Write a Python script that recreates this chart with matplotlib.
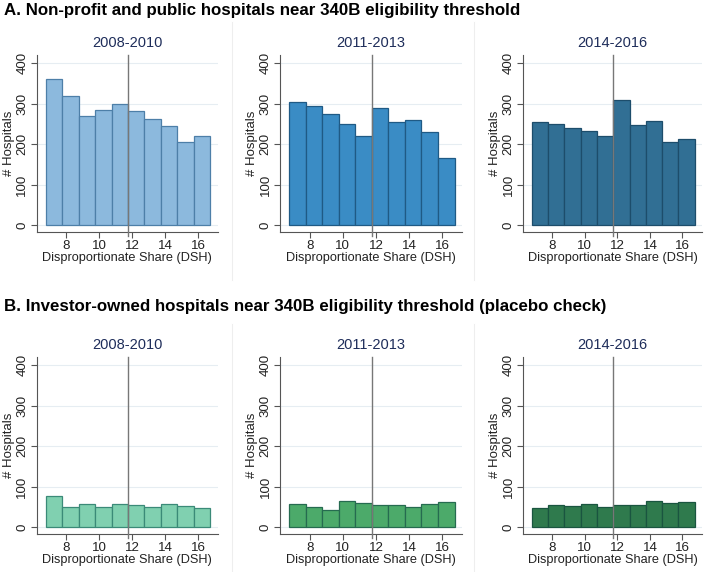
import matplotlib
matplotlib.use("Agg")
from matplotlib import pyplot as plt
from matplotlib.lines import Line2D

plt.rcParams['font.family'] = ['Liberation Sans', 'DejaVu Sans']

# DSH bin centres (1-point bins, threshold at 11.75)
dsh_bins = [7.25, 8.25, 9.25, 10.25, 11.25, 12.25, 13.25, 14.25, 15.25, 16.25]
threshold = 11.75
periods = ["2008-2010", "2011-2013", "2014-2016"]

# A. non-profit and public hospitals
nonprofit_0810 = [360, 318, 269, 285, 300, 282, 261, 244, 205, 220]
nonprofit_1113 = [305, 293, 274, 250, 219, 289, 255, 260, 231, 165]
nonprofit_1416 = [255, 249, 239, 232, 219, 308, 247, 256, 205, 213]

# B. investor-owned hospitals
investor_0810 = [78, 50, 58, 50, 57, 55, 49, 56, 51, 46]
investor_1113 = [58, 50, 43, 64, 60, 55, 54, 49, 57, 62]
investor_1416 = [47, 55, 52, 58, 50, 54, 54, 64, 60, 63]

x_ticks = [8, 10, 12, 14, 16]
y_ticks = [0, 100, 200, 300, 400]

rows = [
    ("A. Non-profit and public hospitals near 340B eligibility threshold",
     [nonprofit_0810, nonprofit_1113, nonprofit_1416],
     [("#8cb9dd", "#4d7fa8"), ("#3a8cc5", "#1f5a85"), ("#316f94", "#1d4d6b")]),
    ("B. Investor-owned hospitals near 340B eligibility threshold (placebo check)",
     [investor_0810, investor_1113, investor_1416],
     [("#80d0b0", "#3b8a78"), ("#4caa6a", "#266b50"), ("#2f7a4d", "#1a5540")]),
]

W, H = 708, 572
fig = plt.figure(figsize=(W / 100, H / 100), dpi=100)

col_left = [36.7, 280, 523]
col_width = [181, 182, 179]
row_top = [55, 357]
title_y = [10, 307]
ax_h = 177

for r, (title, series, colors) in enumerate(rows):
    fig.text(4 / W, 1 - title_y[r] / H, title, fontsize=12.2, fontweight="bold",
             ha="left", va="center", color="black")
    for c in range(3):
        ax = fig.add_axes([col_left[c] / W, 1 - (row_top[r] + ax_h) / H, col_width[c] / W, ax_h / H])
        fill, edge = colors[c]
        ax.bar(dsh_bins, series[c], width=1.0, color=fill, edgecolor=edge, linewidth=0.9, zorder=2)
        ax.set_xlim(6.2, 17.2)
        ax.set_ylim(-17, 420)
        ax.set_xticks(x_ticks)
        ax.set_yticks(y_ticks)
        ax.set_yticklabels([str(v) for v in y_ticks], rotation=90, va="center")
        ax.grid(axis="y", color="#e6edf2", linewidth=0.8, zorder=0)
        ax.set_axisbelow(True)
        for side in ["top", "right"]:
            ax.spines[side].set_visible(False)
        for side in ["left", "bottom"]:
            ax.spines[side].set_color("#555555")
            ax.spines[side].set_linewidth(0.8)
        ax.tick_params(axis="both", colors="#555555", labelcolor="#222222",
                       length=4, width=0.8, pad=2)
        ax.tick_params(axis="x", labelsize=9.6, pad=1.5)
        ax.tick_params(axis="y", labelsize=9.5)
        ax.axvline(threshold, ymin=-0.025, ymax=1, color="#777777", linewidth=1.0,
                   clip_on=False, zorder=3)
        ax.set_xlabel("Disproportionate Share (DSH)", fontsize=9.2, color="#222222", labelpad=0)
        ax.set_ylabel("# Hospitals", fontsize=9.5, color="#222222", labelpad=1)
        ax.set_title(periods[c], fontsize=10.5, color="#1e2d5a", pad=6)

# faint panel separators
for r in range(2):
    for xs in [232, 474]:
        fig.add_artist(Line2D([xs / W, xs / W], [1 - (row_top[r] - 33) / H, 1 - (row_top[r] + 225) / H],
                              color="#eeeeee", linewidth=0.8))

fig.savefig("out.png", dpi=100)
